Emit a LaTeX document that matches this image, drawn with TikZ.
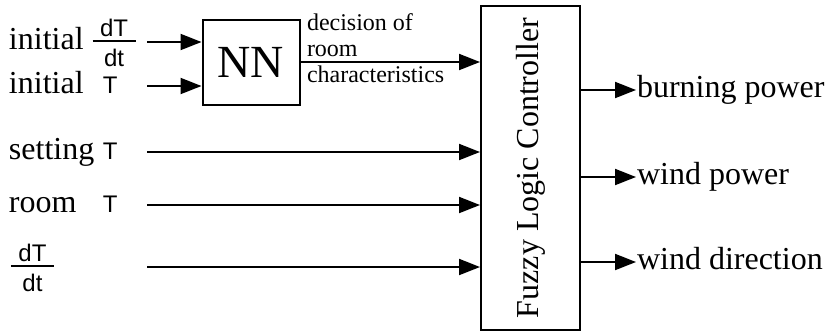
\documentclass[tikz,border=0pt]{standalone}
\usepackage{fontspec}
\usepackage{graphicx}
\setmainfont{Liberation Serif}
\setsansfont{Liberation Sans}
\usetikzlibrary{arrows.meta, positioning, calc}

% sans-serif symbols used in the input labels
\newcommand{\symT}{{\fontsize{12}{13}\selectfont\sffamily T}}
\newcommand{\symfrac}{\raisebox{6.5pt}{\fontsize{12}{13}\selectfont\sffamily
  \setlength{\arrayrulewidth}{0.9pt}\renewcommand{\arraystretch}{0}%
  \begin{tabular}[t]{@{}c@{}}\makebox[21.5pt]{dT}\rule[-2pt]{0pt}{2pt}\\\hline
  \rule{0pt}{12.5pt}dt\end{tabular}}}
\newcommand{\inword}[1]{\makebox[47pt][l]{#1}}

\begin{document}
\begin{tikzpicture}[
  x=0.5pt, y=-0.5pt,
  line width=1pt,
  font=\fontsize{16}{18}\selectfont,
  inlab/.style={anchor=west, inner sep=0pt, text width=68.5pt, align=left,
                text height=10pt, text depth=3pt},
  outlab/.style={anchor=west, inner sep=0pt, text height=10pt, text depth=3pt},
  nnbox/.style={rectangle, draw=black, fill=white, inner sep=0pt,
                minimum width=48.5pt, minimum height=42.5pt,
                font=\fontsize{23}{24}\selectfont},
  flcbox/.style={rectangle, draw=black, fill=white, inner sep=0pt,
                 minimum width=49.5pt, minimum height=162pt,
                 font=\fontsize{16}{18}\selectfont},
  note/.style={anchor=north west, inner sep=0pt, align=left,
               font=\fontsize{12}{13}\selectfont},
  arr/.style={-{Triangle[length=10.5pt, width=8pt]}},
]
\useasboundingbox (0,0) rectangle (829,333);
% inputs
\node (iniDT) [inlab] at (8,42)  {initial\hspace{4.5pt}\symfrac};
\node (iniT)  [inlab] at (8,86)  {\inword{initial}\symT};
\node (setT)  [inlab] at (8,152) {\inword{setting}\symT};
\node (roomT) [inlab] at (8,205) {\inword{room}\symT};
\node (rate)  [inlab] at (8,267) {\hspace{1pt}\symfrac};
% blocks
\node (nn)  [nnbox]  at (251,62)    {NN};
\node (flc) [flcbox] at (530.5,168) {\rotatebox{90}{Fuzzy Logic Controller}};
\node (dec) [note]   at (306,13)    {decision of\\room\\characteristics};
% outputs
\node (burn) [outlab] at (636,90)  {burning power};
\node (wpow) [outlab] at (636,177) {wind power};
\node (wdir) [outlab] at (636,262) {wind direction};
% edges
\draw [arr] (iniDT.east) -- (iniDT.east -| nn.west);
\draw [arr] (iniT.east)  -- (iniT.east -| nn.west);
\draw [arr] (nn.east)    -- (nn.east -| flc.west);
\draw [arr] (setT.east)  -- (setT.east -| flc.west);
\draw [arr] (roomT.east) -- (roomT.east -| flc.west);
\draw [arr] (rate.east)  -- (rate.east -| flc.west);
\draw [arr] (flc.east |- burn.west) -- (burn.west);
\draw [arr] (flc.east |- wpow.west) -- (wpow.west);
\draw [arr] (flc.east |- wdir.west) -- (wdir.west);
\end{tikzpicture}
\end{document}
